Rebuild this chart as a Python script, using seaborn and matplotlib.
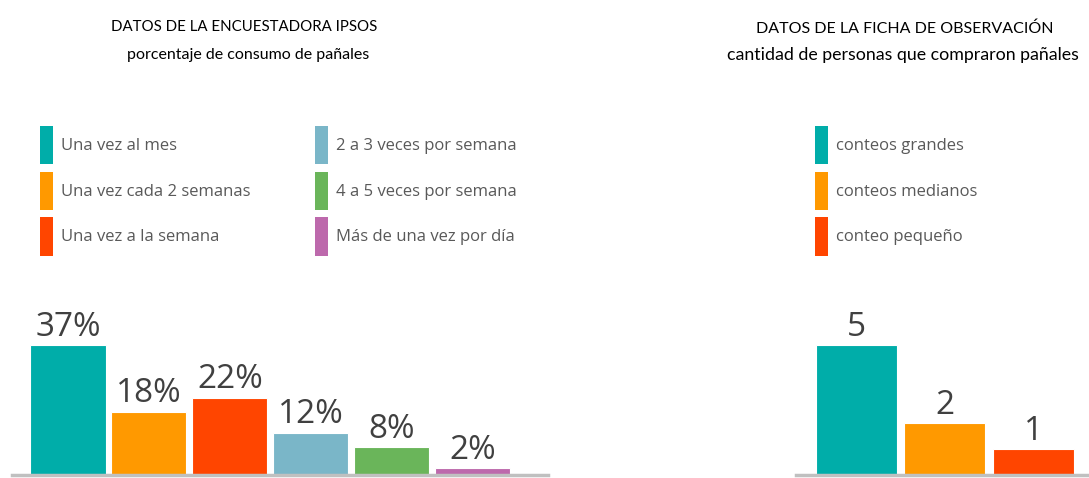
#import libraries
import matplotlib
matplotlib.use("Agg")
import matplotlib.pyplot as plt
import matplotlib.patches as mpatches
import pandas as pd
import seaborn as sns

#data
ipsos_categories = ["Una vez al mes", "Una vez cada 2 semanas", "Una vez a la semana",
                    "2 a 3 veces por semana", "4 a 5 veces por semana", "Más de una vez por día"]
ipsos_values = [37, 18, 22, 12, 8, 2]
ipsos_colors = ["#00ADA9", "#FF9900", "#FF4500", "#7AB6C8", "#6AB55A", "#BD69AC"]

ficha_categories = ["conteos grandes", "conteos medianos", "conteo pequeño"]
ficha_values = [5, 2, 1]
ficha_colors = ["#00ADA9", "#FF9900", "#FF4500"]

sns.set_style("white")
plt.rcParams['font.family'] = ['Open Sans', 'DejaVu Sans']

W, H = 1089, 478
fig = plt.figure(figsize=(W / 100, H / 100), dpi=100)

def px_axes(x0, x1, y_top, y_bot):
    return fig.add_axes([x0 / W, 1 - y_bot / H, (x1 - x0) / W, (y_bot - y_top) / H])

def draw_panel(ax, cats, vals, colors, labels, width, xlim, ytop):
    df = pd.DataFrame({'cat': cats, 'val': vals})
    sns.barplot(data=df, x='cat', y='val', hue='cat', palette=colors, legend=False,
                saturation=1, width=width, edgecolor='white', linewidth=0.8, ax=ax)
    for cont, lab in zip(ax.containers, labels):
        ax.bar_label(cont, labels=[lab], padding=1, fontsize=24, color='#404040')
    ax.set_xlim(*xlim)
    ax.set_ylim(0, ytop)
    ax.set_xlabel('')
    ax.set_ylabel('')
    ax.set_xticks([])
    ax.set_yticks([])
    for s in ['top', 'left', 'right']:
        ax.spines[s].set_visible(False)
    ax.spines['bottom'].set_color('#C0C0C0')
    ax.spines['bottom'].set_linewidth(2.5)

def add_legend(ax, cats, colors, x, y):
    handles = [mpatches.Patch(facecolor=c, edgecolor='none', label=l) for l, c in zip(cats, colors)]
    leg = ax.legend(handles=handles, loc='upper left', bbox_to_anchor=(x / W, 1 - y / H),
                    bbox_transform=fig.transFigure, frameon=False, fontsize=12,
                    handlelength=0.8, handleheight=3.15, handletextpad=0.45,
                    labelspacing=0.45, borderpad=0, borderaxespad=0)
    for t in leg.get_texts():
        t.set_color('#595959')
    return leg

#left panel
ax1 = px_axes(12, 548, 300, 475)
draw_panel(ax1, ipsos_categories, ipsos_values, ipsos_colors,
           [f"{v}%" for v in ipsos_values], 0.93, (-0.69, 5.93), 37 * 175 / 130)
leg_a = add_legend(ax1, ipsos_categories[:3], ipsos_colors[:3], 40, 126)
ax1.add_artist(leg_a)
add_legend(ax1, ipsos_categories[3:], ipsos_colors[3:], 315, 126)

#right panel
ax2 = px_axes(796, 1089, 300, 475)
draw_panel(ax2, ficha_categories, ficha_values, ficha_colors,
           [str(v) for v in ficha_values], 0.915, (-0.68, 2.63), 5 * 175 / 130)
add_legend(ax2, ficha_categories, ficha_colors, 815, 126)

#titles
title_font = ['Lato', 'DejaVu Sans']
fig.text(244 / W, 1 - 27 / H, "DATOS DE LA ENCUESTADORA IPSOS", ha='center', va='center',
         fontsize=10.8, family=title_font, color='#000000')
fig.text(248 / W, 1 - 55 / H, "porcentaje de consumo de pañales", ha='center', va='center',
         fontsize=11.5, family=title_font, color='#000000')
fig.text(905 / W, 1 - 29 / H, "DATOS DE LA FICHA DE OBSERVACIÓN", ha='center', va='center',
         fontsize=11.5, family=title_font, color='#000000')
fig.text(903 / W, 1 - 55 / H, "cantidad de personas que compraron pañales", ha='center', va='center',
         fontsize=12.8, family=title_font, color='#000000')

fig.savefig('out.png', dpi=100)
